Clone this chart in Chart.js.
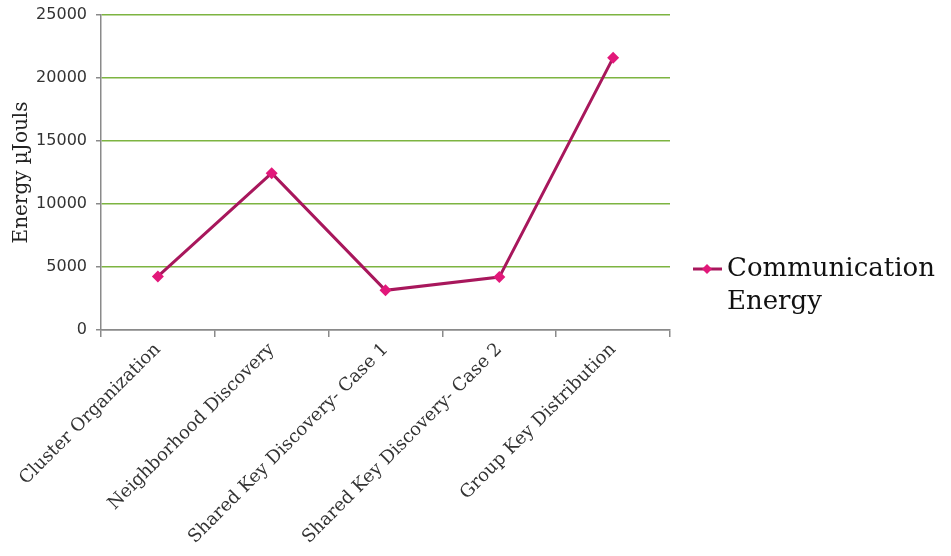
<!DOCTYPE html>
<html>
<head>
<meta charset="utf-8">
<script src="https://cdn.jsdelivr.net/npm/chart.js@4"></script>
<style>
  html, body { margin: 0; padding: 0; background: #fff; }
  #wrap { width: 951px; height: 556px; }
</style>
</head>
<body>
<div id="wrap"><canvas id="energyChart" width="951" height="556"></canvas></div>
<script>
const categories = ['Cluster Organization', 'Neighborhood Discovery', 'Shared Key Discovery- Case 1', 'Shared Key Discovery- Case 2', 'Group Key Distribution'];
const commEnergy = [4250, 12450, 3150, 4200, 21600];
const seriesName = ['Communication', 'Energy'];
const yTicks = [0, 5000, 10000, 15000, 20000, 25000];

// legend drawn at the right, two lines like the original
const sideLegend = {
    id: 'sideLegend',
    afterDraw(chart){
        const ctx = chart.ctx;
        const ds = chart.data.datasets[0];
        const y = 269;
        ctx.save();
        ctx.strokeStyle = ds.borderColor;
        ctx.lineWidth = 3;
        ctx.beginPath();
        ctx.moveTo(693, y);
        ctx.lineTo(722, y);
        ctx.stroke();
        ctx.fillStyle = ds.pointBackgroundColor;
        ctx.beginPath();
        ctx.moveTo(707, y - 5);
        ctx.lineTo(712, y);
        ctx.lineTo(707, y + 5);
        ctx.lineTo(702, y);
        ctx.closePath();
        ctx.fill();
        ctx.fillStyle = '#111';
        ctx.font = '26px "DejaVu Serif"';
        ctx.textBaseline = 'middle';
        ctx.fillText(seriesName[0], 727, y);
        ctx.fillText(seriesName[1], 727, y + 33);
        ctx.restore();
    }
};

const ctx = document.getElementById('energyChart').getContext('2d');
const energyChart = new Chart(ctx, {
    type: 'line',
    data: {
        labels: categories,
        datasets: [{
            label: seriesName.join(' '),
            data: commEnergy,
            borderColor: '#A8175C',
            borderWidth: 3,
            pointStyle: 'rectRot',
            pointRadius: 6,
            pointBackgroundColor: '#E2187A',
            pointBorderColor: '#E2187A',
            pointBorderWidth: 0,
            tension: 0,
            fill: false
        }]
    },
    options: {
        responsive: false,
        animation: false,
        layout: { padding: { top: 15, right: 281, bottom: 0, left: 0 } },
        plugins: {
            legend: { display: false },
            tooltip: { enabled: false }
        },
        scales: {
            x: {
                offset: true,
                afterFit: (scale) => { scale.height = 226; scale.paddingLeft = 0; scale.paddingRight = 0; },
                grid: { display: true, offset: true, drawOnChartArea: false, tickLength: 7, color: '#8a8a8a', lineWidth: 1.5 },
                border: { color: '#8a8a8a', width: 1.5, z: 2 },
                ticks: {
                    autoSkip: false,
                    maxRotation: 45,
                    minRotation: 45,
                    padding: 2,
                    color: '#333',
                    font: { family: '"DejaVu Serif"', size: 18 }
                }
            },
            y: {
                min: 0,
                max: 25000,
                afterFit: (scale) => { scale.width = 101; scale.paddingTop = 0; scale.paddingBottom = 0; },
                afterBuildTicks: (scale) => { scale.ticks = yTicks.map(v => ({ value: v })); },
                grid: {
                    color: (c) => c.tick && c.tick.value === 0 ? '#8a8a8a' : '#7DB441',
                    lineWidth: 1.5, tickLength: 5, tickColor: '#8a8a8a'
                },
                border: { color: '#8a8a8a', width: 1.5 },
                ticks: {
                    padding: 9,
                    color: '#333',
                    font: { family: '"DejaVu Sans"', size: 16 },
                    callback: (v) => String(v)
                },
                title: {
                    display: true,
                    text: 'Energy µJouls',
                    color: '#222',
                    padding: { top: 10, bottom: 0 },
                    font: { family: '"DejaVu Serif"', size: 20 }
                }
            }
        }
    },
    plugins: [sideLegend]
});
</script>
</body>
</html>
